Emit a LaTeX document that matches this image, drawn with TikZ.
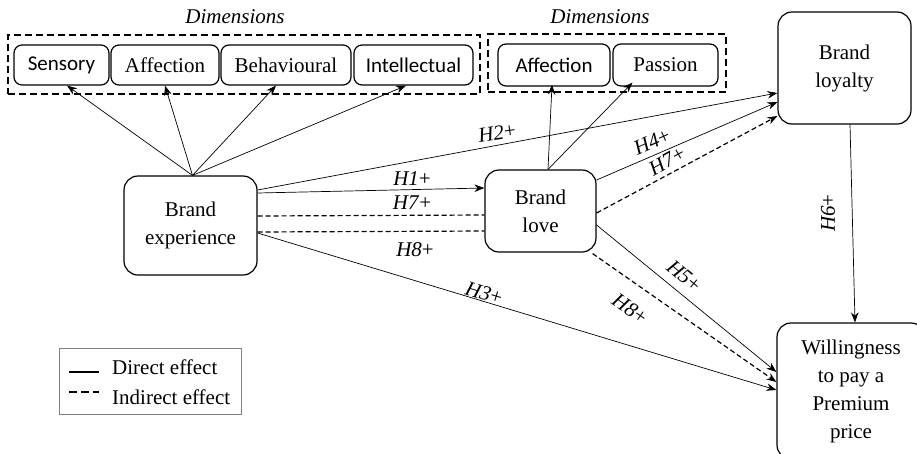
\documentclass[tikz,border=0pt]{standalone}
\usepackage{fontspec}
\setmainfont{Liberation Serif}
\newfontfamily\carl{Carlito}
\usetikzlibrary{arrows.meta}
\tikzset{
  base/.style={font=\fontsize{21}{28}\selectfont},
  bigbox/.style={base, draw, line width=1.2pt, rounded corners=14pt, align=center, inner sep=0pt},
  dimbox/.style={base, draw, line width=1.2pt, rounded corners=8pt, inner sep=0pt, minimum height=40pt},
  grpbox/.style={draw, line width=1.2pt, dash pattern=on 7pt off 4pt, inner sep=0pt},
  arr/.style={line width=0.7pt, -{Stealth[length=10pt,width=7.5pt]}},
  darr/.style={line width=1.2pt, dash pattern=on 5pt off 3pt, -{Stealth[length=10pt,width=7.5pt]}},
  dline/.style={line width=1.2pt, dash pattern=on 5pt off 3pt},
  hlab/.style={base, inner sep=0pt},
}
\newcommand{\hy}[1]{\textit{H#1}+}
\begin{document}
\begin{tikzpicture}[x=1pt,y=-1pt]
\clip (0,0) rectangle (917,453);
\useasboundingbox (0,0) rectangle (917,453);

% group boxes
\node[grpbox, minimum width=472pt, minimum height=59pt] (g1) at (244,64.5) {};
\node[grpbox, minimum width=238pt, minimum height=58pt] (g2) at (607,63) {};
\node[base, font=\fontsize{21}{28}\selectfont\itshape] (d1) at (235,17) {Dimensions};
\node[base, font=\fontsize{21}{28}\selectfont\itshape] (d2) at (600,17) {Dimensions};

% dimension boxes
\node[dimbox, minimum width=95pt, font=\fontsize{21}{28}\selectfont\carl] (sen) at (61.5,65) {Sensory};
\node[dimbox, minimum width=108pt] (aff) at (165,65) {Affection};
\node[dimbox, minimum width=130pt] (beh) at (286,65) {Behavioural};
\node[dimbox, minimum width=119pt, font=\fontsize{21}{28}\selectfont\carl] (int) at (413.5,65) {Intellectual};
\node[dimbox, minimum width=112pt, minimum height=42pt, font=\fontsize{21}{28}\selectfont\carl] (aff2) at (554,65) {Affection};
\node[dimbox, minimum width=105pt, minimum height=42pt] (pas) at (665.5,65) {Passion};

% main constructs
\node[bigbox, minimum width=133pt, minimum height=99pt] (be) at (190.5,225.5) {Brand\\experience};
\node[bigbox, minimum width=111pt, minimum height=82pt] (bl) at (540.5,211) {Brand\\love};
\node[bigbox, minimum width=133pt, minimum height=112pt] (loy) at (844.5,68) {Brand\\loyalty};
\node[bigbox, minimum width=148pt, minimum height=136pt] (wp) at (851,391) {Willingness\\to pay a\\Premium\\price};

% dimension arrows
\draw[arr] ([xshift=2pt]be.north) -- ([xshift=5.5pt]sen.south);
\draw[arr] ([xshift=2pt]be.north) -- (aff.south);
\draw[arr] ([xshift=2pt]be.north) -- ([xshift=-10pt]beh.south);
\draw[arr] ([xshift=2pt]be.north) -- ([xshift=-7.5pt]int.south);
\draw[arr] ([xshift=7.5pt]bl.north) -- ([xshift=-2pt,yshift=2pt]aff2.south);
\draw[arr] ([xshift=7.5pt]bl.north) -- ([xshift=-33pt,yshift=4pt]pas.south);

% hypotheses
\draw[arr] ([yshift=35.5pt]be.east) -- ([yshift=-25pt]loy.west);
\draw[arr] ([yshift=32.5pt]be.east) -- ([yshift=23pt]bl.west);
\draw[dline] ([yshift=9.5pt]be.east) -- ([yshift=-4pt]bl.west);
\draw[dline] ([yshift=-6.5pt]be.east) -- ([yshift=-20pt]bl.west);
\draw[arr] ([yshift=-7.5pt]be.east) -- ([yshift=1pt]wp.west);
\draw[arr] ([yshift=31pt]bl.east) -- ([yshift=-34pt]loy.west);
\draw[darr] ([yshift=-2pt]bl.east) -- ([yshift=-48pt]loy.west);
\draw[arr] ([yshift=-14pt]bl.east) -- ([yshift=19pt]wp.west);
\draw[darr] ([xshift=-4pt,yshift=-1pt]bl.south east) -- ([yshift=9pt]wp.west);
\draw[arr] ([xshift=5.5pt]loy.south) -- ([xshift=4pt]wp.north);

% labels
\node[hlab, rotate=8] (l2) at (497,133) {\hy{2}};
\node[hlab] (l1) at (412,179) {\hy{1}};
\node[hlab] (l7a) at (412,203) {\hy{7}};
\node[hlab] (l8a) at (415,250) {\hy{8}};
\node[hlab, rotate=-17] (l3) at (484,293) {\hy{3}};
\node[hlab, rotate=24] (l4) at (652,142) {\hy{4}};
\node[hlab, rotate=29] (l7b) at (667,161) {\hy{7}};
\node[hlab, rotate=-40] (l5) at (684,276) {\hy{5}};
\node[hlab, rotate=-35] (l8b) at (630,309) {\hy{8}};
\node[hlab, rotate=90] (l6) at (828,213) {\hy{6}};

% legend
\node[draw=gray, line width=0.8pt, minimum width=182pt, minimum height=66pt, inner sep=0pt] (leg) at (150,381) {};
\coordinate (la1) at (69,372);
\coordinate (lb1) at (99,372);
\coordinate (la2) at (69,392);
\coordinate (lb2) at (99,392);
\draw[line width=2.6pt] (la1) -- (lb1);
\draw[line width=2.6pt, dash pattern=on 8pt off 4pt] (la2) -- (lb2);
\node[hlab, anchor=west] (t1) at (112,367) {Direct effect};
\node[hlab, anchor=west] (t2) at (112,397) {Indirect effect};
\end{tikzpicture}
\end{document}
